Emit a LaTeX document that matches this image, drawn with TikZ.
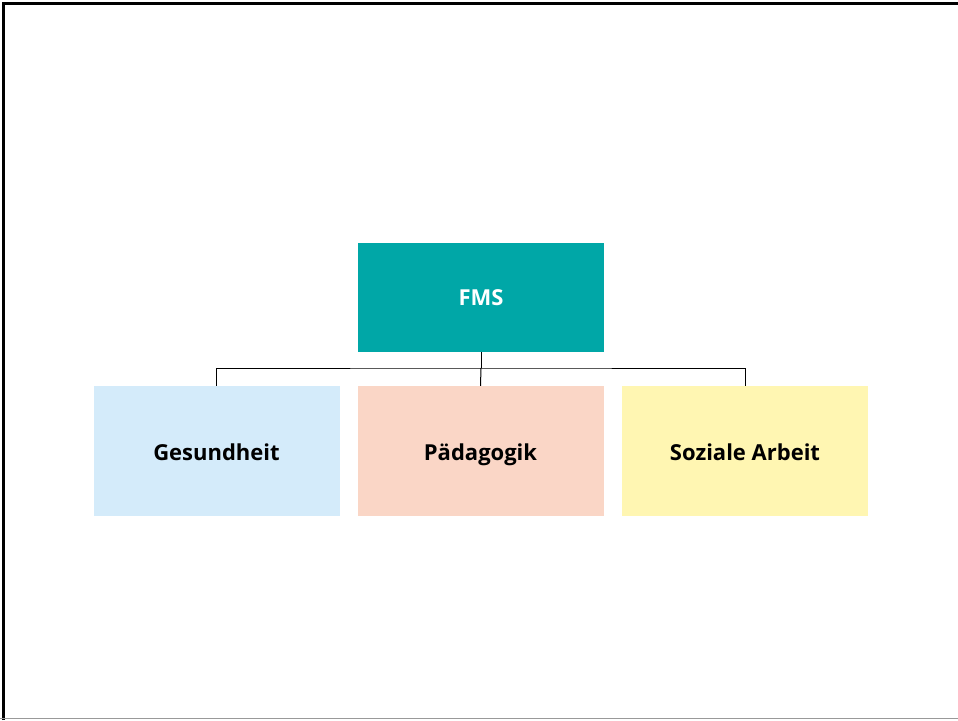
\documentclass[tikz,border=0pt]{standalone}
\usepackage{fontspec}
\setmainfont{Open Sans}
\definecolor{fmsteal}{HTML}{00A7A7}
\definecolor{gesblue}{HTML}{D4EBFA}
\definecolor{paedrose}{HTML}{FAD6C6}
\definecolor{sozyellow}{HTML}{FFF6B2}
\tikzset{
  box/.style={minimum width=246pt, minimum height=130pt, inner sep=0pt,
    text height=20pt, text depth=2pt,
    font=\fontsize{22}{26}\selectfont\bfseries},
}
\begin{document}
\begin{tikzpicture}[x=1pt,y=-1pt]
\useasboundingbox (0,0) rectangle (958,720);
% frame
\draw[line width=3pt] (3,720) -- (3,3) -- (958,3);
\draw[gray!80, line width=1.5pt] (0,718.5) -- (958,718.5);
% boxes
\node[box, fill=fmsteal, text=white, minimum height=109pt, text height=17pt] (fms) at (481,297.5) {FMS};
\node[box, fill=gesblue] (ges) at (216.5,451) {Gesundheit};
\node[box, fill=paedrose] (paed) at (480.5,451) {Pädagogik};
\node[box, fill=sozyellow] (soz) at (745,451) {Soziale Arbeit};
% connectors
\coordinate (bar) at (481,368);
\draw[line width=1pt] (fms.south) -- (bar);
\draw[line width=1pt] (ges.north) |- (bar) -| (soz.north);
\draw[line width=1pt] (bar) -- (paed.north);
\end{tikzpicture}
\end{document}
